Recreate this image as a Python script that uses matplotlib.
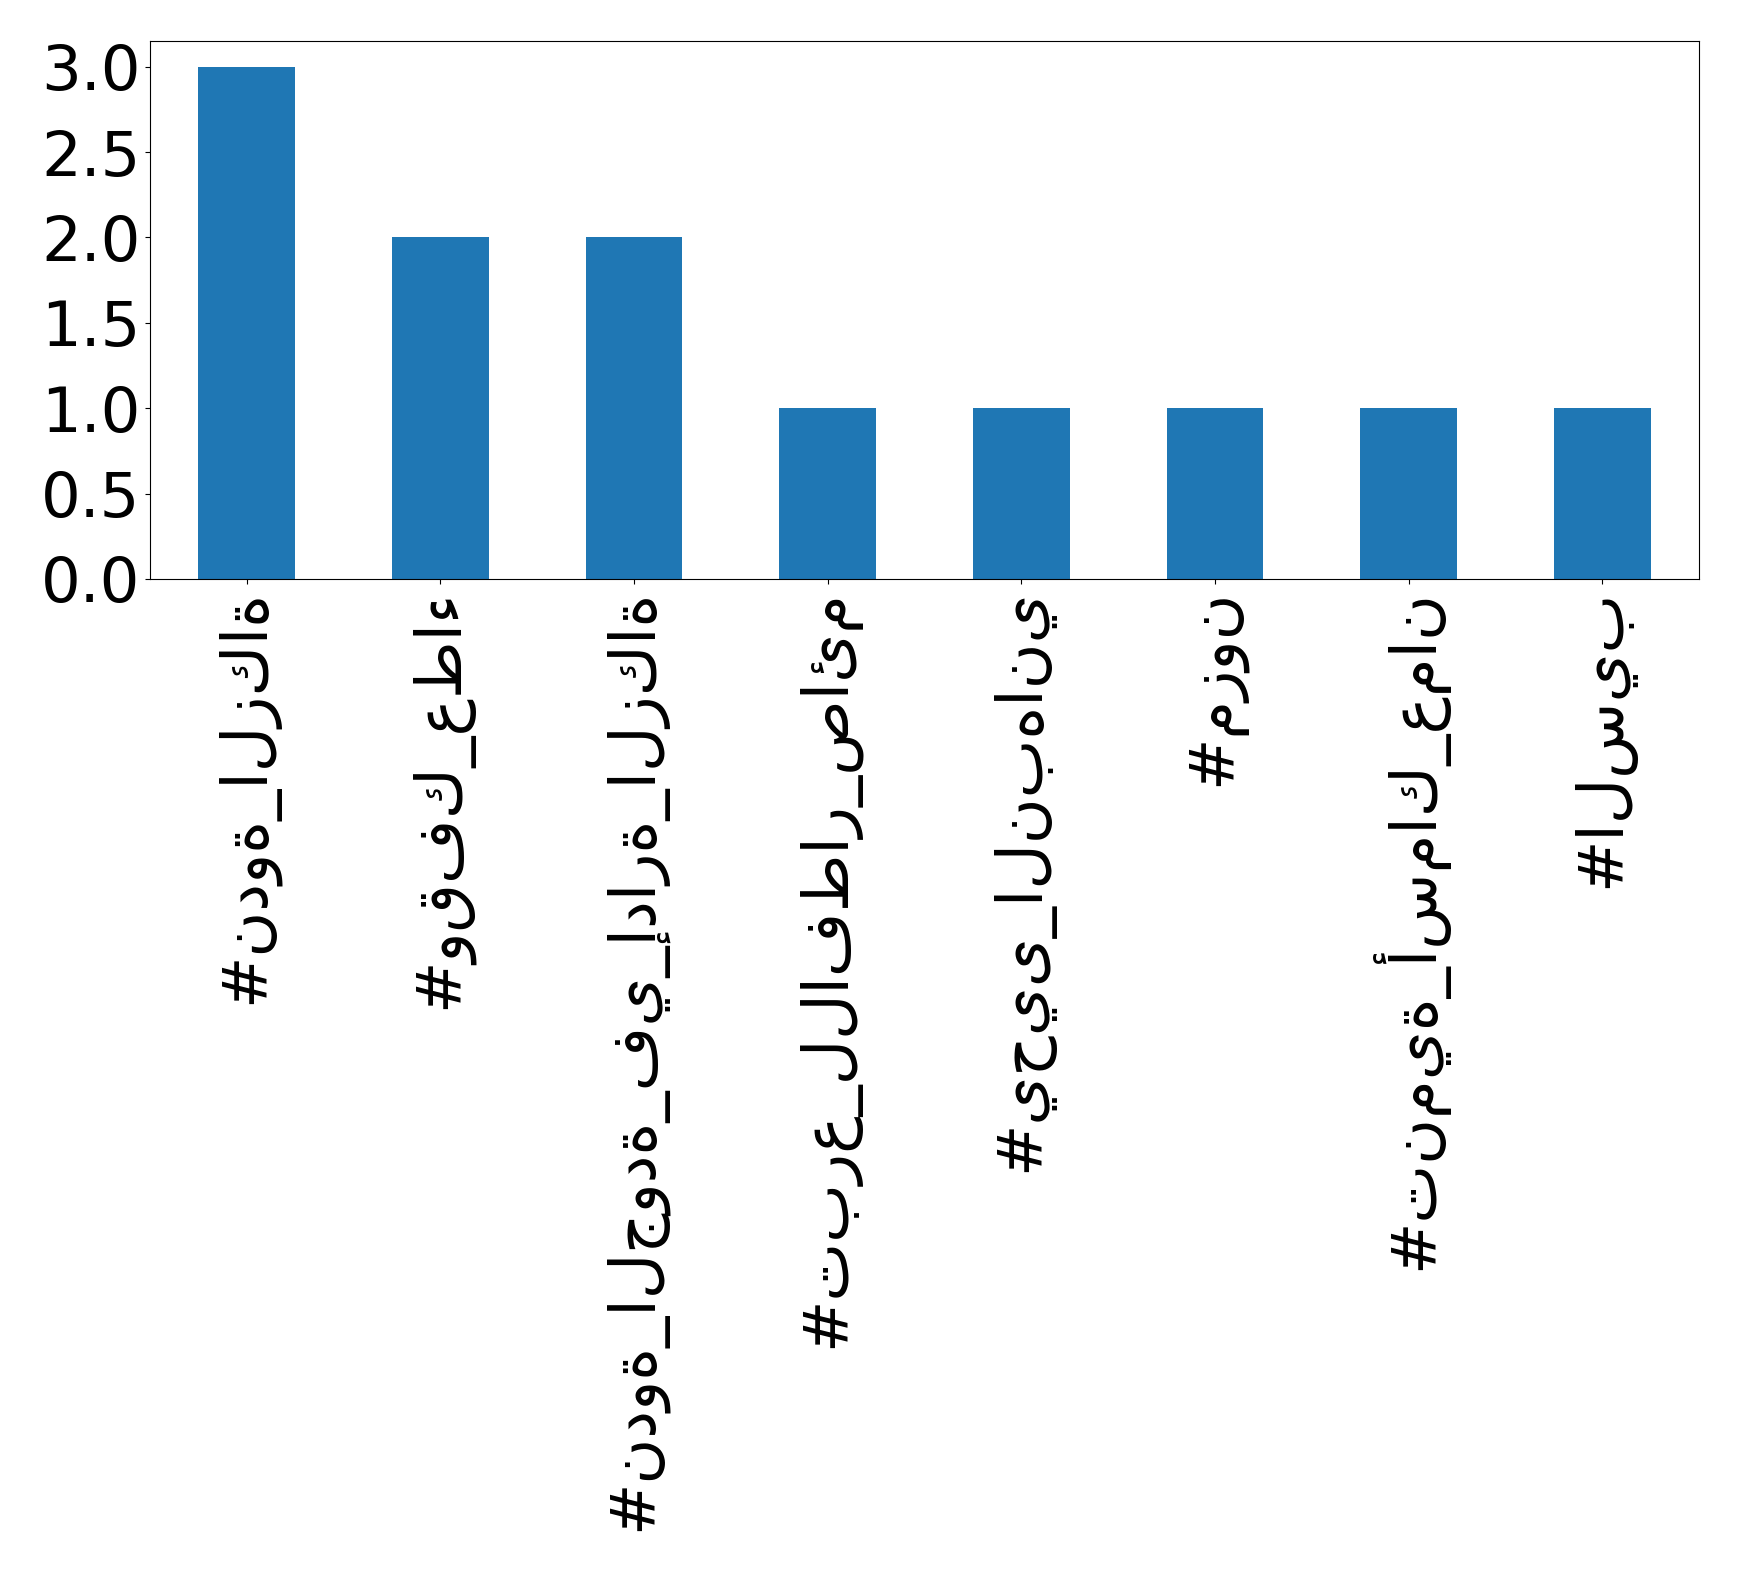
import matplotlib
matplotlib.use("Agg")
import matplotlib.pyplot as plt

hashtags = [
    "#ندوة_الزكاة",
    "#وقفك_عطاء",
    "#ندوة_الجودة_في_إدارة_الزكاة",
    "#تبرع_للافطار_صائم",
    "#يحيى_النبهاني",
    "#مزون",
    "#تنمية_أسماك_عمان",
    "#السيب",
]
counts = [3, 2, 2, 1, 1, 1, 1, 1]
yticks = [0.0, 0.5, 1.0, 1.5, 2.0, 2.5, 3.0]

fig = plt.figure(figsize=(17.39, 15.71), dpi=100)
ax = fig.add_axes([150 / 1739, 1 - 579 / 1571, (1699 - 150) / 1739, (579 - 41) / 1571])
x = list(range(len(hashtags)))
ax.bar(x, counts, width=0.5, color="#1f77b4")
ax.set_xlim(-0.5, len(hashtags) - 0.5)
ax.set_ylim(0, 3.15)
ax.set_xticks(x)
ax.set_xticklabels(hashtags, rotation=90, fontsize=45)
ax.set_yticks(yticks)
ax.set_yticklabels([f"{v:.1f}" for v in yticks], fontsize=45)
fig.savefig("out.png", dpi=100)
